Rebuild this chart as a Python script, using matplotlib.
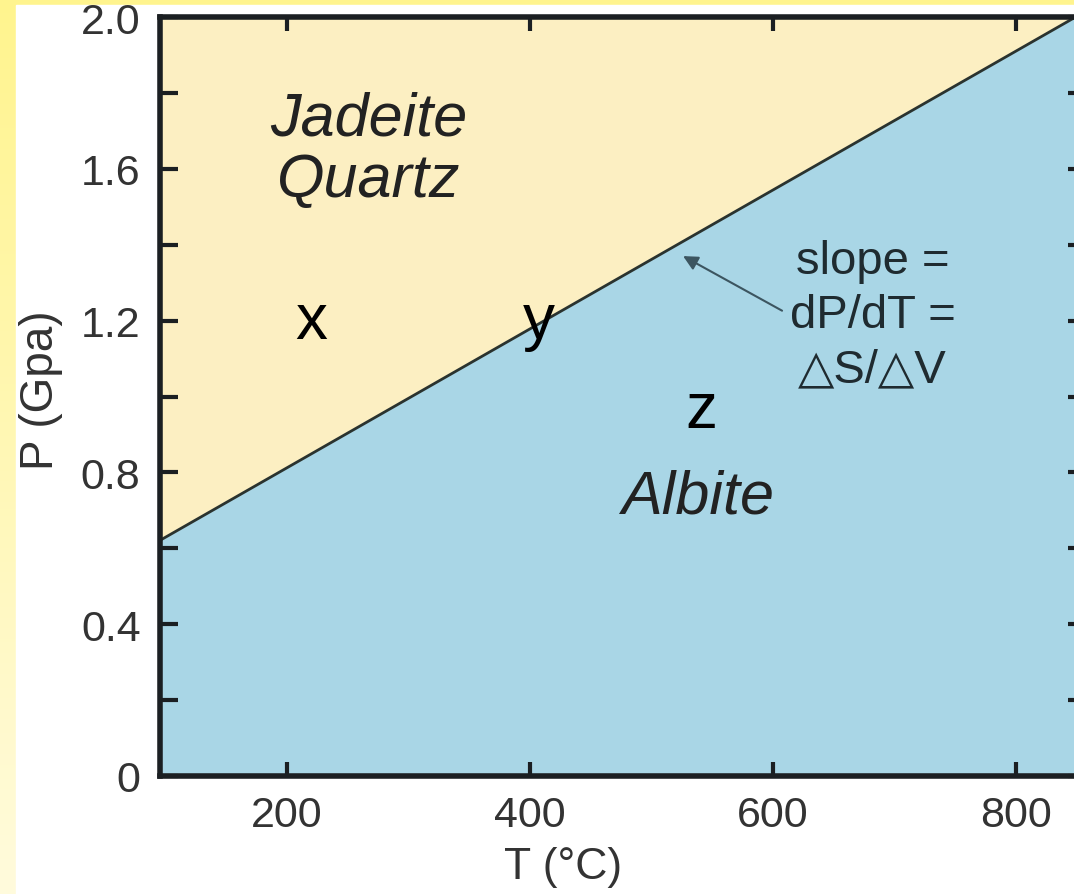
import numpy as np
import matplotlib
matplotlib.use("Agg")
import matplotlib.pyplot as plt
from matplotlib.patches import Rectangle

plt.rcParams['font.family'] = ['Liberation Sans', 'DejaVu Sans']

# phase boundary (T in deg C, P in GPa)
T_boundary = [95, 860]
P_boundary = [0.62, 2.02]

x_ticks = [200, 400, 600, 800]
y_ticks = [0, 0.4, 0.8, 1.2, 1.6, 2.0]
y_tick_labels = ['0', '0.4', '0.8', '1.2', '1.6', '2.0']
y_minor = [0.2, 0.6, 1.0, 1.4, 1.8]

point_labels = ['x', 'y', 'z']
point_T = [220, 407, 541]
point_P = [1.2, 1.2, 0.965]

W, H = 1074, 895
fig = plt.figure(figsize=(W / 100, H / 100), dpi=100)
fig.patch.set_facecolor('white')

# yellow slide border (left and top strip)
bg = fig.add_axes([0, 0, 1, 1], zorder=-5)
grad = np.linspace(0, 1, 256).reshape(-1, 1)
cmap = matplotlib.colors.LinearSegmentedColormap.from_list('yl', ['#fff48e', '#fffbdc'])
bg.imshow(grad, aspect='auto', cmap=cmap, extent=[0, 1, 0, 1])
bg.add_patch(Rectangle((16 / W, 0), 1, 1 - 6 / H, color='white'))
bg.set_xlim(0, 1)
bg.set_ylim(0, 1)
bg.axis('off')

# right spine sits just outside the picture, as in the cropped original
ax = fig.add_axes([160 / W, 1 - 777 / H, 926 / W, 759 / H])
ax.set_xlim(95.5, 857.6)
ax.set_ylim(0, 2.0)

cream = '#fcefc2'
blue = '#a9d6e6'
ax.fill_between(T_boundary, P_boundary, 2.2, color=cream, lw=0)
ax.fill_between(T_boundary, 0, P_boundary, color=blue, lw=0)
ax.plot(T_boundary, P_boundary, color='#2a332f', lw=2)

ax.set_xticks(x_ticks)
ax.set_yticks(y_ticks)
ax.set_yticklabels(y_tick_labels)
ax.set_yticks(y_minor, minor=True)
ax.tick_params(which='both', direction='in', length=10, width=3, color='#1b1f22',
               top=True, right=True, labelsize=31, labelcolor='#333333', pad=14)
ax.tick_params(axis='y', which='both', length=13)
for s in ax.spines.values():
    s.set_linewidth(4)
    s.set_color('#1b1f22')

ax.set_xlabel('T (°C)', fontsize=32, color='#333333')
ax.set_ylabel('P (Gpa)', fontsize=33, color='#333333')
ax.xaxis.set_label_coords(0.435, -0.092)
ax.yaxis.set_label_coords(-0.105, 0.51)

ax.text(267, 1.65, 'Jadeite\nQuartz', fontsize=44, style='italic', color='#222222',
        ha='center', va='center', linespacing=1.1)
ax.text(538, 0.735, 'Albite', fontsize=44, style='italic', color='#222222',
        ha='center', va='center')

for lab, t, p in zip(point_labels, point_T, point_P):
    ax.text(t, p, lab, fontsize=46, color='black', ha='center', va='center')

ax.annotate('slope =\ndP/dT =\n\u25b3S/\u25b3V', xy=(526, 1.37), xytext=(682, 1.215),
            fontsize=34, color='#1f2b30', ha='center', va='center', linespacing=1.3,
            arrowprops=dict(arrowstyle='-|>', color='#3c5560', lw=1.5,
                            shrinkA=4, shrinkB=0, mutation_scale=22,
                            relpos=(0.0, 0.5)))

fig.savefig('out.png', dpi=100)
